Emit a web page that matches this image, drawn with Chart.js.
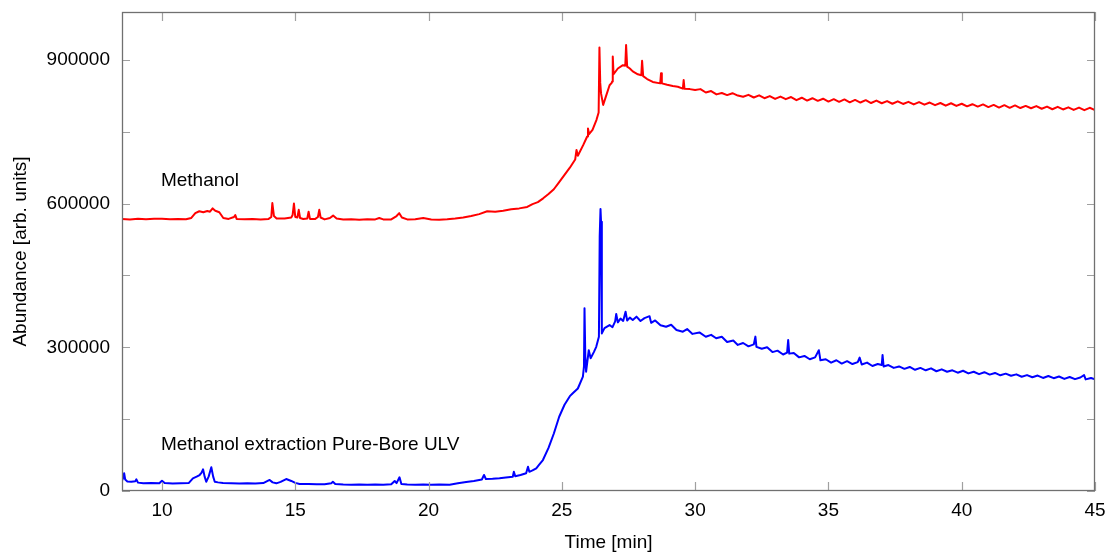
<!DOCTYPE html>
<html><head><meta charset="utf-8">
<script src="https://cdn.jsdelivr.net/npm/chart.js@4"></script>
<style>html,body{margin:0;padding:0;background:#fff}canvas{display:block}</style>
</head><body>
<canvas id="c" width="1112" height="554"></canvas>
<script>
const redTimes=[8.5,8.8,9.1,9.4,9.7,10.0,10.3,10.6,10.9,11.1,11.25,11.4,11.55,11.7,11.8,11.9,12.0,12.15,12.3,12.5,12.7,12.75,12.8,13.1,13.4,13.7,14.0,14.1,14.14,14.2,14.3,14.6,14.85,14.9,14.95,15.0,15.08,15.13,15.18,15.3,15.45,15.5,15.55,15.75,15.85,15.9,15.95,16.1,16.3,16.42,16.55,16.8,17.1,17.4,17.7,18.0,18.15,18.3,18.6,18.8,18.9,19.0,19.2,19.5,19.8,20.1,20.4,20.7,21.0,21.3,21.6,21.9,22.2,22.5,22.8,23.1,23.4,23.7,23.9,24.1,24.3,24.5,24.7,24.9,25.1,25.3,25.5,25.55,25.6,25.8,25.95,25.98,26.02,26.15,26.3,26.38,26.41,26.44,26.47,26.55,26.66,26.79,26.87,26.89,26.91,26.94,27.1,27.29,27.38,27.41,27.45,27.55,27.66,27.85,27.98,28.01,28.05,28.2,28.41,28.69,28.72,28.75,28.95,29.16,29.35,29.54,29.57,29.6,29.8,30.0,30.2,30.4,30.6,30.8,31.0,31.2,31.4,31.6,31.8,32.0,32.2,32.4,32.6,32.8,33.0,33.2,33.4,33.6,33.8,34.0,34.2,34.4,34.6,34.8,35.0,35.2,35.4,35.6,35.8,36.0,36.2,36.4,36.6,36.8,37.0,37.2,37.4,37.6,37.8,38.0,38.2,38.4,38.6,38.8,39.0,39.2,39.4,39.6,39.8,40.0,40.2,40.4,40.6,40.8,41.0,41.2,41.4,41.6,41.8,42.0,42.2,42.4,42.6,42.8,43.0,43.2,43.4,43.6,43.8,44.0,44.2,44.4,44.6,44.8,45.0];
const redValues=[568000,567000,568500,567500,568200,568500,567500,568000,567200,570000,580000,584000,582000,584500,583000,590000,585000,582000,570000,568000,572000,576000,568000,567500,568000,567000,568000,572000,601000,574000,569000,569000,571000,576000,600000,572000,571000,587000,570000,568000,569000,583000,568000,568000,572000,587000,571000,567000,570000,575000,569000,567000,567500,566500,567500,567000,570000,567000,567000,574000,580000,571000,567000,567500,570000,567000,566500,567500,569000,571000,574000,578000,584000,583000,585000,588000,590000,593000,599000,603000,611000,620000,630000,645000,660000,675000,692000,712000,700000,722000,740000,757000,745000,754000,775000,790000,926000,852000,830000,806000,825000,847000,852000,855000,907000,870000,882000,889000,888000,931000,886000,882000,876000,870000,868000,898000,866000,860000,854000,851000,872000,851000,848000,845500,844000,840000,858000,840000,839000,837000,839000,832000,835000,828000,831000,826500,830500,825500,823000,827000,821500,826000,820000,824500,818500,823500,818000,822500,816000,821000,815000,820000,814500,819000,813000,818000,812500,817500,811500,816500,811000,816000,810000,815000,809500,814000,808500,813500,808000,812500,807000,812000,806500,811000,805500,810000,804500,809500,804000,808500,803000,807500,802500,807000,801500,806000,800500,805500,800000,805000,799500,804000,799000,803500,798000,802500,797000,802000,796500,801000,795500,800500,795000,800000,795500];
const blueTimes=[8.5,8.55,8.58,8.62,8.7,8.85,9.0,9.04,9.1,9.3,9.6,9.9,10.0,10.1,10.4,10.7,11.0,11.16,11.3,11.41,11.48,11.54,11.6,11.66,11.75,11.85,11.92,11.98,12.1,12.29,12.6,12.9,13.2,13.5,13.8,14.0,14.04,14.15,14.29,14.45,14.66,14.85,15.0,15.16,15.5,15.8,16.1,16.35,16.41,16.5,16.8,17.1,17.4,17.7,18.0,18.3,18.6,18.73,18.8,18.91,18.98,19.2,19.5,19.8,20.1,20.4,20.79,21.1,21.41,21.7,22.0,22.08,22.15,22.4,22.66,22.9,23.16,23.2,23.25,23.45,23.66,23.73,23.78,23.9,24.04,24.15,24.29,24.5,24.7,24.9,25.1,25.3,25.41,25.6,25.79,25.83,25.85,25.88,25.91,26.01,26.08,26.2,26.29,26.39,26.42,26.45,26.47,26.5,26.6,26.79,26.9,27.0,27.04,27.1,27.2,27.3,27.39,27.45,27.55,27.66,27.8,27.95,28.1,28.29,28.35,28.5,28.7,28.91,29.1,29.3,29.54,29.7,29.9,30.16,30.4,30.6,30.79,31.0,31.2,31.43,31.6,31.8,32.0,32.2,32.26,32.3,32.5,32.7,32.9,33.09,33.3,33.45,33.49,33.53,33.7,33.9,34.1,34.3,34.5,34.64,34.7,34.9,35.1,35.3,35.5,35.7,35.9,36.1,36.17,36.25,36.45,36.65,36.85,37.0,37.03,37.07,37.25,37.45,37.65,37.85,38.05,38.25,38.45,38.65,38.85,39.05,39.25,39.45,39.65,39.85,40.05,40.25,40.45,40.65,40.85,41.05,41.25,41.45,41.65,41.85,42.05,42.25,42.45,42.65,42.85,43.05,43.25,43.45,43.65,43.85,44.05,44.25,44.45,44.59,44.65,44.85,45.0];
const blueValues=[21500,28000,37000,24000,20000,19500,20500,24400,17500,16000,16500,16000,21500,16500,15500,16000,16500,26500,30000,33400,38000,45300,30000,19400,30000,49500,30000,19400,18000,16700,16000,15500,16000,15500,16500,22000,23000,18000,16000,19000,25000,21000,17000,14600,14500,14000,14000,16000,19400,14500,13500,13000,13500,13000,13500,13000,14000,20900,16500,28600,14600,13500,13000,13500,13000,13500,13200,16000,18800,21000,24000,33400,25000,25500,26500,28000,29900,40300,31000,33500,37000,50700,40000,43000,47400,55000,64700,90000,120000,155000,180000,198000,204000,214000,238600,260000,381400,280000,249000,294000,277000,290000,301000,322000,531000,588700,562000,329000,340000,346500,342000,354000,369500,352000,360000,355000,374300,356000,362000,357000,364000,355000,361000,365000,351000,356000,346000,343000,347000,336000,332600,338000,328000,331000,322000,326000,318800,322000,311000,314000,305000,309000,302000,306000,322300,301000,297000,300000,290000,293000,285000,289000,315000,286800,288000,279000,282000,275000,279000,294000,273000,275000,268000,273000,266000,271000,265000,269000,278500,264000,268000,261000,265000,263000,284000,260000,263000,257000,260000,255000,259000,253000,257000,252000,256000,250000,254000,249000,252000,247000,251000,245500,249000,244000,248000,243000,246500,241500,245000,240500,243500,238500,242000,237500,241000,236000,240000,235500,239000,234000,238000,233500,237000,242000,233000,236000,233000];
const xTicks=[10,15,20,25,30,35,40,45];
const yTickLabels=[0,300000,600000,900000];
const yMinorTicks=[150000,450000,750000];
const seriesNames=['Methanol','Methanol extraction Pure-Bore ULV'];
const labelAnchors=[{t:9.96,v:636700},{t:9.96,v:85600}];

const FONT="'Liberation Sans', Arial, Helvetica, sans-serif";
Chart.defaults.font.family=FONT;
Chart.defaults.font.size=19;
Chart.defaults.color='#000';

const framePlugin={id:'frame',afterDraw(chart){
  const {ctx,chartArea:a,scales:{x,y}}=chart;
  ctx.save();
  ctx.strokeStyle='#a0a0a0';ctx.lineWidth=1.2;
  ctx.beginPath();
  xTicks.forEach(t=>{const px=Math.round(x.getPixelForValue(t))+0.5;
    ctx.moveTo(px,a.bottom);ctx.lineTo(px,a.bottom-9);
    ctx.moveTo(px,a.top);ctx.lineTo(px,a.top+9);});
  yTickLabels.concat(yMinorTicks).forEach(v=>{const py=Math.round(y.getPixelForValue(v))+0.5;
    ctx.moveTo(a.left,py);ctx.lineTo(a.left+8,py);
    ctx.moveTo(a.right,py);ctx.lineTo(a.right-8,py);});
  ctx.stroke();
  ctx.strokeStyle='#707070';ctx.lineWidth=1.3;
  ctx.strokeRect(Math.round(a.left)+0.5,Math.round(a.top)+0.5,Math.round(a.width)-1,Math.round(a.height)-1);
  ctx.fillStyle='#000';
  ctx.font='19px '+FONT;
  ctx.textAlign='left';ctx.textBaseline='alphabetic';
  labelAnchors.forEach((p,i)=>ctx.fillText(seriesNames[i],x.getPixelForValue(p.t),y.getPixelForValue(p.v)));
  ctx.textAlign='center';ctx.textBaseline='middle';
  ctx.fillText('Time [min]',(a.left+a.right)/2,543);
  ctx.translate(21,(a.top+a.bottom)/2);ctx.rotate(-Math.PI/2);
  ctx.fillText('Abundance [arb. units]',0,0);
  ctx.restore();
}};

new Chart(document.getElementById('c'),{
  type:'line',
  data:{datasets:[
    {label:seriesNames[0],data:redTimes.map((t,i)=>({x:t,y:redValues[i]})),borderColor:'#ff0000',borderWidth:2,pointRadius:0,tension:0,borderJoinStyle:'round'},
    {label:seriesNames[1],data:blueTimes.map((t,i)=>({x:t,y:blueValues[i]})),borderColor:'#0000ff',borderWidth:2,pointRadius:0,tension:0,borderJoinStyle:'round'}
  ]},
  options:{
    responsive:false,animation:false,devicePixelRatio:1,
    layout:{padding:{top:12,right:17,left:0,bottom:0}},
    plugins:{legend:{display:false},tooltip:{enabled:false}},
    scales:{
      x:{type:'linear',min:8.5,max:45,
        afterBuildTicks:s=>{s.ticks=xTicks.map(v=>({value:v}));},
        afterFit:s=>{s.height=63;s.paddingLeft=0;s.paddingRight=0;},
        grid:{display:false,drawTicks:false},border:{display:false},
        ticks:{padding:8,maxRotation:0,autoSkip:false,callback:v=>String(v)}},
      y:{type:'linear',min:0,max:1000000,
        afterBuildTicks:s=>{s.ticks=yTickLabels.map(v=>({value:v}));},
        afterFit:s=>{s.width=122;s.paddingTop=0;s.paddingBottom=0;},
        grid:{display:false,drawTicks:false},border:{display:false},
        ticks:{padding:12,callback:v=>String(v)}}
    }
  },
  plugins:[framePlugin]
});
</script>
</body></html>
